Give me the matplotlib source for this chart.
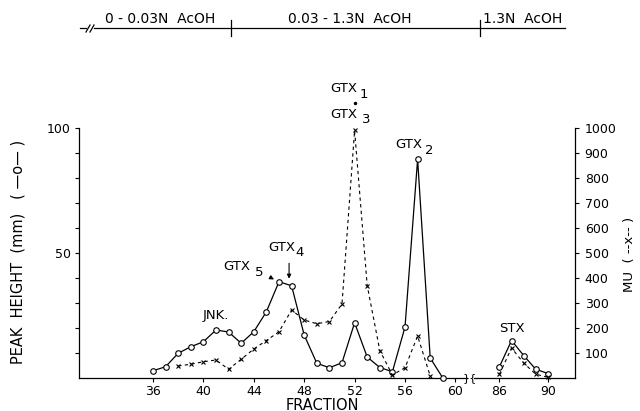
import matplotlib
matplotlib.use('Agg')
import matplotlib.pyplot as plt
from matplotlib.lines import Line2D

# fractions 36-59: peak height (mm), solid line with open circles
frac_main = [36, 37, 38, 39, 40, 41, 42, 43, 44, 45, 46, 47,
             48, 49, 50, 51, 52, 53, 54, 55, 56, 57, 58, 59]
peak_main = [2.9, 4.5, 9.9, 12.5, 14.5, 19.2, 18.4, 13.9, 18.5, 26.5, 38.5, 36.9,
             17.2, 5.9, 4.1, 6.1, 22.1, 8.4, 4.2, 2.5, 20.4, 87.5, 8.0, 0.0]

# fractions 38-58: mouse units, dashed line with x markers
mu_frac_main = [38, 39, 40, 41, 42, 43, 44, 45, 46, 47, 48,
                49, 50, 51, 52, 53, 54, 55, 56, 57, 58]
mu_main = [48, 55, 65, 72, 35, 75, 116, 150, 185, 272, 232,
           217, 226, 296, 990, 370, 110, 12, 41, 168, 8]

# STX part (fractions 86-90)
frac_stx = [86, 87, 88, 89, 90]
peak_stx = [4.5, 15.0, 9.0, 3.5, 1.8]
mu_stx = [15, 120, 60, 15, 3]

# GTX1 point above the top of the scale
gtx1_frac = [52]
gtx1_mu = [1100]

W, H = 640, 411


def fx(x):
    return x / W


def fy(y):
    return 1 - y / H


plt.rcParams['font.family'] = 'DejaVu Sans'
fig = plt.figure(figsize=(6.4, 4.11), dpi=100)

bottom = fy(378)
height = 250 / H
ax1 = fig.add_axes([fx(79), bottom, (466 - 79) / W, height])
ax2 = fig.add_axes([fx(474), bottom, (575 - 474) / W, height])

for ax in (ax1, ax2):
    ax.set_ylim(0, 100)
    ax.spines['top'].set_visible(False)
    ax.spines['right'].set_visible(False)
    ax.patch.set_alpha(0)
    for s in ax.spines.values():
        s.set_linewidth(0.9)
    ax.tick_params(axis='x', direction='out', length=3, width=0.8, labelsize=9, pad=2)

ax1.set_xlim(30.13, 60.84)
ax2.set_xlim(83.9, 92.24)
ax1.set_xticks(range(36, 61, 4))
ax2.set_xticks([86, 90])
ax1.set_yticks(range(10, 101, 10))
ax1.set_yticklabels(['' if v not in (50, 100) else str(v) for v in range(10, 101, 10)])
ax1.tick_params(axis='y', direction='out', length=3, width=0.8, labelsize=9, pad=3)
ax2.spines['left'].set_visible(False)
ax2.set_yticks([])

# MU scale on the right
ax1m = ax1.twinx()
ax2m = ax2.twinx()
for ax in (ax1m, ax2m):
    ax.set_ylim(0, 1000)
    ax.spines['top'].set_visible(False)
    ax.spines['left'].set_visible(False)
    ax.spines['bottom'].set_visible(False)
ax1m.spines['right'].set_visible(False)
ax1m.set_yticks([])
ax2m.spines['right'].set_linewidth(0.9)
ax2m.set_yticks(range(100, 1001, 100))
ax2m.tick_params(axis='y', direction='out', length=3, width=0.8, labelsize=9, pad=4)

circ = dict(color='black', lw=0.9, marker='o', ms=4, mfc='white', mec='black', mew=0.8)
cross = dict(color='black', lw=0.8, ls=(0, (3, 3)), marker='x', ms=2.5, mew=0.8)

ax1.plot(frac_main, peak_main, clip_on=False, zorder=4, **circ)
ax2.plot(frac_stx, peak_stx, clip_on=False, zorder=4, **circ)
ax1m.plot(mu_frac_main, mu_main, clip_on=False, **cross)
ax2m.plot(frac_stx, mu_stx, clip_on=False, **cross)
ax1m.plot(gtx1_frac, gtx1_mu, 'k.', ms=3, clip_on=False)

# peak labels
tk = dict(fontsize=9.5, ha='center', va='center', clip_on=False)


def gtx(x, y, xd, yd, n):
    ax1.text(x, y, 'GTX', **tk)
    ax1.text(xd, yd, n, **tk)


ax1.text(41.0, 25.2, 'JNK.', **tk)
gtx(42.67, 44.4, 44.45, 42.0, '5')
ax1.annotate('', xy=(45.8, 38.9), xytext=(45.1, 40.8),
             arrowprops=dict(arrowstyle='-|>', color='black', lw=0.8, mutation_scale=6))
gtx(46.24, 52.4, 47.65, 50.4, '4')
ax1.annotate('', xy=(46.8, 38.6), xytext=(46.8, 47.0),
             arrowprops=dict(arrowstyle='-|>', color='black', lw=0.8, mutation_scale=6))
gtx(51.16, 115.6, 52.7, 113.2, '1')
gtx(51.16, 105.2, 52.95, 103.4, '3')
gtx(56.32, 93.2, 57.9, 90.8, '2')
ax2.text(87.0, 20.0, 'STX', **tk)

# axis titles
fig.text(fx(322), fy(405), 'FRACTION', fontsize=10.5, ha='center', va='center')
fig.text(fx(18), fy(252), 'PEAK  HEIGHT  (mm)   ( —o— )', fontsize=10.5,
         rotation=90, ha='center', va='center')
fig.text(fx(630), fy(254), 'MU  ( --x-- )', fontsize=9.5,
         rotation=90, ha='center', va='center')

# axis break
fig.text(fx(470), fy(378), '}{', fontsize=8, ha='center', va='center')

# elution header
yh = fy(28)
fig.add_artist(Line2D([fx(80), fx(86)], [yh, yh], color='black', lw=0.9))
fig.add_artist(Line2D([fx(86), fx(90)], [fy(32), fy(25)], color='black', lw=0.9))
fig.add_artist(Line2D([fx(90), fx(94)], [fy(32), fy(25)], color='black', lw=0.9))
fig.add_artist(Line2D([fx(94), fx(565)], [yh, yh], color='black', lw=0.9))
for xt in (231, 480):
    fig.add_artist(Line2D([fx(xt), fx(xt)], [fy(20), fy(36)], color='black', lw=0.9))
fig.text(fx(160), fy(19), '0 - 0.03N  AcOH', fontsize=10, ha='center', va='center')
fig.text(fx(350), fy(19), '0.03 - 1.3N  AcOH', fontsize=10, ha='center', va='center')
fig.text(fx(523), fy(19), '1.3N  AcOH', fontsize=10, ha='center', va='center')

fig.savefig('out.png', dpi=100)
